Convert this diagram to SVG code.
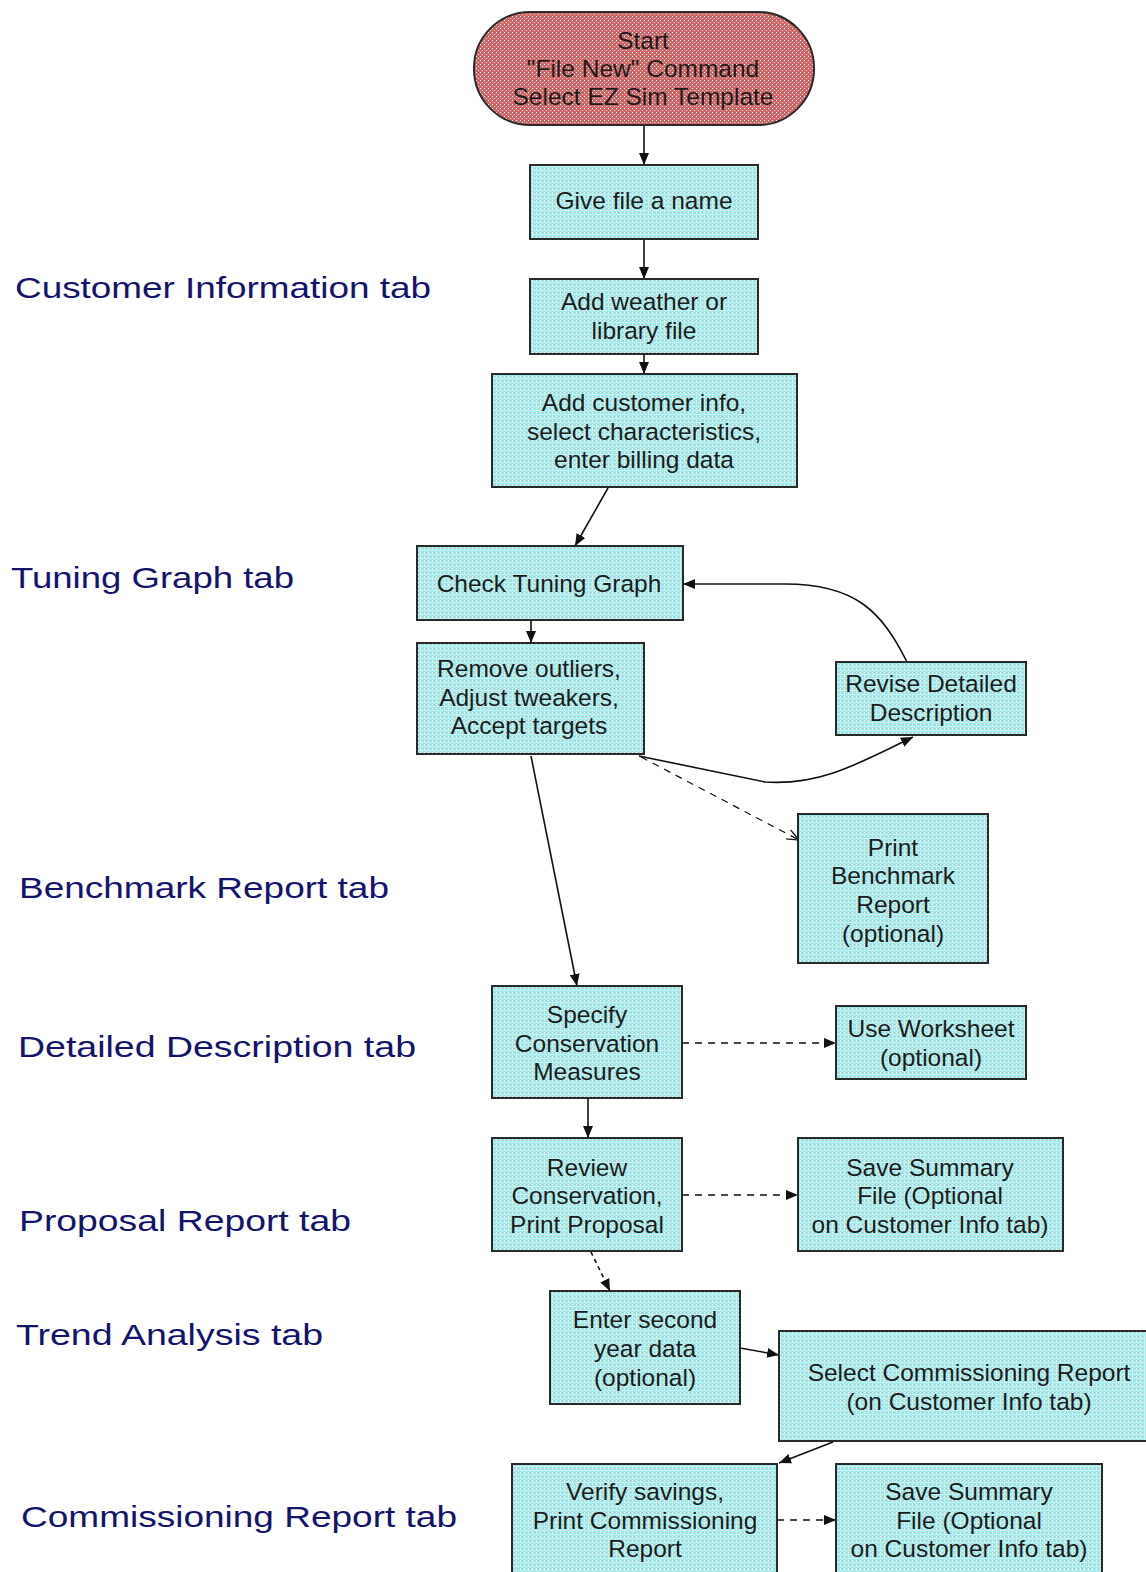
<svg xmlns="http://www.w3.org/2000/svg" width="1146" height="1572" viewBox="0 0 1146 1572">
<defs>
<pattern id="cy" width="4" height="4" patternUnits="userSpaceOnUse">
<rect width="4" height="4" fill="#a4eaea"/>
<rect x="0" y="0" width="1" height="1" fill="#ffffff"/>
<rect x="2" y="2" width="1" height="1" fill="#ffffff"/>
<rect x="2" y="0" width="1" height="1" fill="#9cc4c4"/>
<rect x="0" y="2" width="1" height="1" fill="#dcf8f8"/>
</pattern>
<pattern id="rd" width="4" height="4" patternUnits="userSpaceOnUse">
<rect width="4" height="4" fill="#d06a6a"/>
<rect x="0" y="0" width="1" height="1" fill="#ffffff"/>
<rect x="2" y="2" width="1" height="1" fill="#f4d0d0"/>
<rect x="2" y="0" width="1" height="1" fill="#b05050"/>
</pattern>
<marker id="ah" markerUnits="userSpaceOnUse" markerWidth="14" markerHeight="12" refX="12" refY="6" orient="auto">
<path d="M0,1 L12,6 L0,11 Z" fill="#111"/>
</marker>
<marker id="oh" markerUnits="userSpaceOnUse" markerWidth="14" markerHeight="12" refX="12" refY="6" orient="auto">
<path d="M0,1 L12,6 L0,11" fill="none" stroke="#111" stroke-width="1.2"/>
</marker>
<style>
.box{fill:url(#cy);stroke:#2a2a2a;stroke-width:2}
.pill{fill:url(#rd);stroke:#2a2a2a;stroke-width:2}
.t{font-family:"Liberation Sans",Arial,sans-serif;font-size:24.5px;fill:#1c1c1c;text-anchor:middle}
.lab{font-family:"Liberation Sans",Arial,sans-serif;font-size:30px;fill:#14146e}
.c{fill:none;stroke:#111;stroke-width:1.6}
.s{marker-end:url(#ah)}
.d{stroke-dasharray:7 6;marker-end:url(#ah)}
.dt{stroke-dasharray:4 4;marker-end:url(#ah)}
.o{stroke-dasharray:7 6;marker-end:url(#oh);stroke-width:1.2}
</style>
</defs>
<rect width="1146" height="1572" fill="#ffffff"/>

<g id="labels">
<text class="lab" x="15" y="298" textLength="416" lengthAdjust="spacingAndGlyphs">Customer Information tab</text>
<text class="lab" x="11" y="588" textLength="283" lengthAdjust="spacingAndGlyphs">Tuning Graph tab</text>
<text class="lab" x="19" y="898" textLength="370" lengthAdjust="spacingAndGlyphs">Benchmark Report tab</text>
<text class="lab" x="18" y="1057" textLength="398" lengthAdjust="spacingAndGlyphs">Detailed Description tab</text>
<text class="lab" x="19" y="1231" textLength="332" lengthAdjust="spacingAndGlyphs">Proposal Report tab</text>
<text class="lab" x="16" y="1345" textLength="307" lengthAdjust="spacingAndGlyphs">Trend Analysis tab</text>
<text class="lab" x="21" y="1527" textLength="436" lengthAdjust="spacingAndGlyphs">Commissioning Report tab</text>
</g>

<g id="connectors">
<path class="c s" d="M644,125 L644,165"/>
<path class="c s" d="M644,239 L644,279"/>
<path class="c s" d="M644,354 L644,374"/>
<path class="c s" d="M608,488 L575,546"/>
<path class="c s" d="M531,620 L531,643"/>
<path class="c s" d="M531,756 L577,986"/>
<path class="c s" d="M639,756 L765,782 C820,786 862,762 913,737"/>
<path class="c s" d="M907,662 C882,612 856,584 785,584 L683,584"/>
<path class="c o" d="M641,757 L799,840"/>
<path class="c d" d="M682,1043 L836,1043"/>
<path class="c s" d="M588,1098 L588,1138"/>
<path class="c d" d="M682,1195 L798,1195"/>
<path class="c dt" d="M591,1252 L610,1291"/>
<path class="c s" d="M740,1348 L779,1355"/>
<path class="c s" d="M833,1442 L779,1463"/>
<path class="c d" d="M777,1520 L836,1520"/>
</g>

<g id="start">
<rect class="pill" x="474" y="12" width="340" height="113" rx="56" ry="56"/>
<text class="t" x="643" y="49">Start</text>
<text class="t" x="643" y="77">"File New" Command</text>
<text class="t" x="643" y="105">Select EZ Sim Template</text>
</g>
<g id="give-name">
<rect class="box" x="530" y="165" width="228" height="74"/>
<text class="t" x="644" y="209">Give file a name</text>
</g>
<g id="add-weather">
<rect class="box" x="530" y="279" width="228" height="75"/>
<text class="t" x="644" y="310">Add weather or</text>
<text class="t" x="644" y="339">library file</text>
</g>
<g id="add-customer">
<rect class="box" x="492" y="374" width="305" height="113"/>
<text class="t" x="644" y="411">Add customer info,</text>
<text class="t" x="644" y="440">select characteristics,</text>
<text class="t" x="644" y="468">enter billing data</text>
</g>
<g id="check-tuning">
<rect class="box" x="417" y="546" width="266" height="74"/>
<text class="t" x="549" y="592">Check Tuning Graph</text>
</g>
<g id="remove-outliers">
<rect class="box" x="417" y="643" width="227" height="111"/>
<text class="t" x="529" y="677">Remove outliers,</text>
<text class="t" x="529" y="706">Adjust tweakers,</text>
<text class="t" x="529" y="734">Accept targets</text>
</g>
<g id="revise-detailed">
<rect class="box" x="836" y="662" width="190" height="73"/>
<text class="t" x="931" y="692">Revise Detailed</text>
<text class="t" x="931" y="721">Description</text>
</g>
<g id="print-benchmark">
<rect class="box" x="798" y="814" width="190" height="149"/>
<text class="t" x="893" y="856">Print</text>
<text class="t" x="893" y="884">Benchmark</text>
<text class="t" x="893" y="913">Report</text>
<text class="t" x="893" y="942">(optional)</text>
</g>
<g id="specify-measures">
<rect class="box" x="492" y="986" width="190" height="112"/>
<text class="t" x="587" y="1023">Specify</text>
<text class="t" x="587" y="1052">Conservation</text>
<text class="t" x="587" y="1080">Measures</text>
</g>
<g id="use-worksheet">
<rect class="box" x="836" y="1006" width="190" height="73"/>
<text class="t" x="931" y="1037">Use Worksheet</text>
<text class="t" x="931" y="1066">(optional)</text>
</g>
<g id="review-conservation">
<rect class="box" x="492" y="1138" width="190" height="113"/>
<text class="t" x="587" y="1176">Review</text>
<text class="t" x="587" y="1204">Conservation,</text>
<text class="t" x="587" y="1233">Print Proposal</text>
</g>
<g id="save-summary-1">
<rect class="box" x="798" y="1138" width="265" height="113"/>
<text class="t" x="930" y="1176">Save Summary</text>
<text class="t" x="930" y="1204">File (Optional</text>
<text class="t" x="930" y="1233">on Customer Info tab)</text>
</g>
<g id="enter-second-year">
<rect class="box" x="550" y="1291" width="190" height="113"/>
<text class="t" x="645" y="1328">Enter second</text>
<text class="t" x="645" y="1357">year data</text>
<text class="t" x="645" y="1386">(optional)</text>
</g>
<g id="select-commissioning">
<rect class="box" x="779" y="1331" width="380" height="110"/>
<text class="t" x="969" y="1381">Select Commissioning Report</text>
<text class="t" x="969" y="1410">(on Customer Info tab)</text>
</g>
<g id="verify-savings">
<rect class="box" x="512" y="1464" width="265" height="120"/>
<text class="t" x="645" y="1500">Verify savings,</text>
<text class="t" x="645" y="1529">Print Commissioning</text>
<text class="t" x="645" y="1557">Report</text>
</g>
<g id="save-summary-2">
<rect class="box" x="836" y="1464" width="266" height="120"/>
<text class="t" x="969" y="1500">Save Summary</text>
<text class="t" x="969" y="1529">File (Optional</text>
<text class="t" x="969" y="1557">on Customer Info tab)</text>
</g>
</svg>
